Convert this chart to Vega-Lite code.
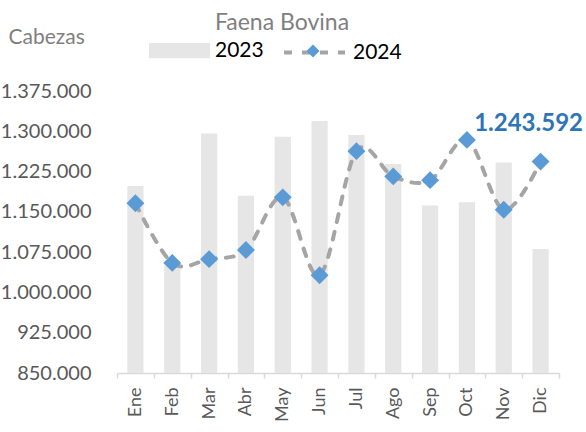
{
  "$schema": "https://vega.github.io/schema/vega-lite/v6.json",
  "autosize": {"type": "none"},
  "width": 442,
  "height": 282,
  "padding": {"left": 117, "top": 91, "right": 27, "bottom": 59},
  "config": {
    "locale": {"number": {"decimal": ",", "thousands": ".", "grouping": [3], "currency": ["$", ""]}},
    "view": {"stroke": null},
    "font": "Lato"
  },
  "title": {"text": "Faena Bovina", "fontSize": 23, "fontWeight": "normal", "color": "#7f7f7f", "anchor": "middle", "frame": "group", "dx": -56, "offset": -15},
  "resolve": {"legend": {"shape": "independent", "stroke": "independent", "fill": "independent"}},
  "data": {"values": [
    {"mes": "Ene", "y2023": 1198000, "y2024": 1166000},
    {"mes": "Feb", "y2023": 1050000, "y2024": 1055000},
    {"mes": "Mar", "y2023": 1296000, "y2024": 1062000},
    {"mes": "Abr", "y2023": 1180000, "y2024": 1079000},
    {"mes": "May", "y2023": 1290000, "y2024": 1177000},
    {"mes": "Jun", "y2023": 1319000, "y2024": 1032000},
    {"mes": "Jul", "y2023": 1293000, "y2024": 1263000},
    {"mes": "Ago", "y2023": 1239000, "y2024": 1216000},
    {"mes": "Sep", "y2023": 1162000, "y2024": 1209000},
    {"mes": "Oct", "y2023": 1168000, "y2024": 1284000},
    {"mes": "Nov", "y2023": 1242000, "y2024": 1154000},
    {"mes": "Dic", "y2023": 1081000, "y2024": 1243592}
  ]},
  "encoding": {
    "x": {"field": "mes", "type": "nominal", "sort": null,
      "scale": {"paddingInner": 0, "paddingOuter": 0},
      "axis": {"title": null, "labelAngle": -90, "labelFontSize": 18, "labelColor": "#595959", "domainColor": "#d9d9d9", "domainWidth": 1.5, "tickColor": "#d9d9d9", "tickWidth": 1.5, "tickSize": 5, "tickBand": "extent", "labelPadding": 9}}
  },
  "layer": [
    {
      "mark": {"type": "bar", "width": {"band": 0.44}},
      "encoding": {
        "y": {"field": "y2023", "type": "quantitative", "title": "Cabezas",
          "scale": {"domain": [850000, 1375000], "nice": false, "zero": false},
          "axis": {"titleAngle": 0, "titleAlign": "left", "titleBaseline": "alphabetic", "titleX": -109, "titleY": -48, "titleFontSize": 21, "titleFontWeight": "normal", "titleColor": "#7f7f7f",
            "values": [850000, 925000, 1000000, 1075000, 1150000, 1225000, 1300000, 1375000], "format": ",.0f", "labelFontSize": 20, "labelColor": "#595959", "domain": false, "ticks": false, "grid": false, "labelPadding": 26}},
        "y2": {"datum": 850000},
        "fill": {"datum": "2023", "type": "nominal", "scale": {"domain": ["2023"], "range": ["#e6e6e6"]},
          "legend": {"title": null, "orient": "none", "legendX": 32, "legendY": -71, "symbolType": "M-1,-0.25H1V0.25H-1Z", "symbolSize": 3721, "symbolStrokeWidth": 0, "labelFontSize": 21, "labelColor": "#000000", "padding": 0, "labelOffset": 5}}
      }
    },
    {
      "mark": {"type": "line", "interpolate": "cardinal", "strokeDash": [8, 10], "strokeWidth": 4, "strokeCap": "round"},
      "encoding": {
        "y": {"field": "y2024", "type": "quantitative", "title": "Cabezas"},
        "stroke": {"datum": "2024", "type": "nominal", "scale": {"domain": ["2024"], "range": ["#a5a5a5"]},
          "legend": {"title": null, "orient": "none", "legendX": 165, "legendY": -71, "symbolType": "stroke", "symbolSize": 3721, "symbolStrokeWidth": 4, "symbolDash": [8, 10], "labelFontSize": 21, "labelColor": "#000000", "padding": 0, "labelOffset": 6}}
      }
    },
    {
      "mark": {"type": "point", "filled": true, "size": 320, "color": "#5b9bd5", "opacity": 1},
      "encoding": {
        "y": {"field": "y2024", "type": "quantitative", "title": "Cabezas"},
        "shape": {"datum": "2024", "type": "nominal", "scale": {"domain": ["2024"], "range": ["diamond"]},
          "legend": {"title": null, "orient": "none", "legendX": 189, "legendY": -47, "symbolSize": 170, "symbolFillColor": "#5b9bd5", "symbolStrokeColor": "#5b9bd5", "symbolStrokeWidth": 0, "symbolOpacity": 1, "labelFontSize": 10, "labelColor": "rgba(0,0,0,0)", "padding": 0}}
      }
    },
    {
      "transform": [{"filter": "datum.mes == 'Dic'"}],
      "mark": {"type": "text", "fontSize": 24, "fontWeight": "bold", "color": "#2e75b6", "dx": -12, "dy": -38},
      "encoding": {
        "y": {"field": "y2024", "type": "quantitative", "title": "Cabezas"},
        "text": {"field": "y2024", "type": "quantitative", "format": ",.0f"}
      }
    }
  ]
}
